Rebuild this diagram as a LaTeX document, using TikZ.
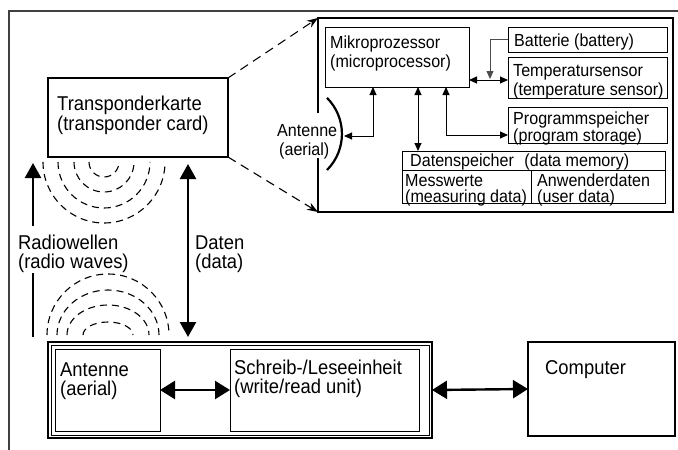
\documentclass[tikz,border=0pt]{standalone}
\usepackage{fontspec}
\setmainfont[FakeStretch=0.92]{Liberation Sans}
\newfontfamily\df[FakeStretch=0.92]{Liberation Sans}
\usetikzlibrary{arrows.meta,calc}
\tikzset{
  box/.style={draw, inner sep=0pt, outer sep=0pt, anchor=north west, line width=1pt},
  main/.style={inner sep=0pt, anchor=base west, font=\fontsize{20}{24}\selectfont},
  det/.style={inner sep=0pt, anchor=base west, font=\df\fontsize{17.5}{21}\selectfont},
  sarr/.style={line width=1pt, {Triangle[length=8pt,width=7pt]}-{Triangle[length=8pt,width=7pt]}},
  barr/.style={line width=2.4pt, {Triangle[length=15pt,width=18pt]}-{Triangle[length=15pt,width=18pt]}},
  wave/.style={dash pattern=on 7pt off 5pt, line width=1.1pt},
  zoomline/.style={dash pattern=on 9pt off 6pt, line width=1.1pt, -{Stealth[length=11pt,width=8pt]}}
}
\begin{document}
\begin{tikzpicture}[x=1pt,y=-1pt]
\useasboundingbox (0,0) rectangle (678,450);
% frame
\coordinate (f1) at (9,450); \coordinate (f2) at (9,11); \coordinate (f3) at (678,11);
\draw[line width=1.5pt, black!75] (f1) -- (f2) -- (f3);

% transponder card
\node[box, line width=2.5pt, minimum width=180pt, minimum height=79pt] (tk) at (48,78) {};
\node[main] (tk1) at (57,110) {Transponderkarte};
\node[main] (tk2) at (57,130) {(transponder card)};

% detail box
\node[inner sep=0pt, outer sep=0pt, anchor=north west, minimum width=355pt, minimum height=194pt] (det) at (318,18) {};
\draw[line width=2pt] ($(det.north west)+(0,95)$) -- (det.north west) -- (det.north east) -- (det.south east) -- (det.south west) -- ($(det.south west)+(0,-54)$);

\draw[zoomline] (tk.north east) -- (det.north west);
\draw[zoomline] (tk.south east) -- (det.south west);

\node[box, minimum width=144pt, minimum height=60pt] (micro) at (325,27) {};
\node[det] (mi1) at (330,48) {Mikroprozessor};
\node[det] (mi2) at (330,67) {(microprocessor)};

\node[box, minimum width=159pt, minimum height=25pt] (batt) at (508,27) {};
\node[det] (ba1) at (514,46) {Batterie (battery)};

\node[box, minimum width=159pt, minimum height=41pt] (temp) at (508,57) {};
\node[det] (te1) at (513,76) {Temperatursensor};
\node[det] (te2) at (513,95) {(temperature sensor)};

\node[box, minimum width=159pt, minimum height=36pt] (prog) at (508,107) {};
\node[det] (pr1) at (513,124) {Programmspeicher};
\node[det] (pr2) at (513,141) {(program storage)};

\node[box, minimum width=263pt, minimum height=52pt] (dm) at (402,151) {};
\draw[line width=1pt] ($(dm.north west)+(0,19)$) -- ($(dm.north east)+(0,19)$);
\draw[line width=1pt] ($(dm.north west)+(129,19)$) -- ($(dm.south west)+(129,0)$);
\node[det] (dm1) at (410,166) {Datenspeicher\hspace{0.6em}(data memory)};
\node[det] (me1) at (405,186) {Messwerte};
\node[det] (me2) at (405,202) {(measuring data)};
\node[det] (an1) at (537,186) {Anwenderdaten};
\node[det] (an2) at (537,202) {(user data)};

% detail antenna
\node[det] (da1) at (277,136) {Antenne};
\node[det] (da2) at (279,155) {(aerial)};
\coordinate (arcs) at (327,170);
\draw[line width=2.2pt] (arcs) arc[start angle=-45, end angle=45, radius=51pt];
\coordinate (arcp) at (344,136);

% detail connectors
\draw[sarr] ($(micro.south west)+(48,0)$) |- (arcp);
\draw[sarr] ($(micro.south west)+(93,0)$) -- ($(dm.north west)+(16,0)$);
\draw[sarr] ($(micro.south west)+(121,0)$) |- ($(prog.south west)+(0,-8)$);
\draw[sarr] ($(micro.south east)+(0,-7)$) -- ($(temp.north west)+(0,23)$);
\coordinate (bj) at (490,79);
\draw[line width=0.8pt, black!70, -{Triangle[length=8pt,width=7pt]}] (batt.west) -| (bj);

% radio waves (upper)
\foreach \r/\s in {61/43,46/58,30/74,15/89}{
  \draw[wave] (\s,162) arc[start angle=180, end angle=360, radius=\r pt];
}
% radio waves (lower)
\foreach \a/\b/\s in {61/61/47,51/45/57,41/30/67,25/13/83}{
  \draw[wave] (\s,335) arc[start angle=180, end angle=0, x radius=\a pt, y radius=\b pt];
}

% radio wave arrow
\coordinate (rw1) at (33,226); \coordinate (rw2) at (33,163);
\coordinate (rw3) at (33,273); \coordinate (rw4) at (33,337);
\draw[line width=2.4pt, -{Triangle[length=15pt,width=16pt]}] (rw1) -- (rw2);
\draw[line width=2.4pt] (rw3) -- (rw4);
\node[main] (rl1) at (18,249) {Radiowellen};
\node[main] (rl2) at (18,268.5) {(radio waves)};

% data arrow
\coordinate (d1) at (188,164); \coordinate (d2) at (188,337);
\draw[line width=2.4pt, {Triangle[length=15pt,width=16pt]}-{Triangle[length=15pt,width=16pt]}] (d1) -- (d2);
\node[main] (dl1) at (195,249) {Daten};
\node[main] (dl2) at (195,268.5) {(data)};

% reader unit
\node[box, line width=2.5pt, minimum width=384pt, minimum height=96pt] (reader) at (48,342) {};
\draw[line width=0.6pt] ($(reader.north west)+(3,3)$) rectangle ($(reader.south east)+(-3,-3)$);
\node[box, minimum width=105pt, minimum height=82pt] (rant) at (55,349) {};
\node[main] (ra1) at (60,376) {Antenne};
\node[main] (ra2) at (60,395.5) {(aerial)};
\node[box, minimum width=189pt, minimum height=82pt] (rw) at (230,349) {};
\node[main] (sw1) at (234,374) {Schreib-/Leseeinheit};
\node[main] (sw2) at (234,393.5) {(write/read unit)};

\node[box, line width=2pt, minimum width=147pt, minimum height=94pt] (comp) at (528,342) {};
\node[main] (co1) at (545,374) {Computer};

\draw[barr] (rant.east) -- (rw.west);
\draw[barr] (reader.east) -- (comp.west);
\end{tikzpicture}
\end{document}
